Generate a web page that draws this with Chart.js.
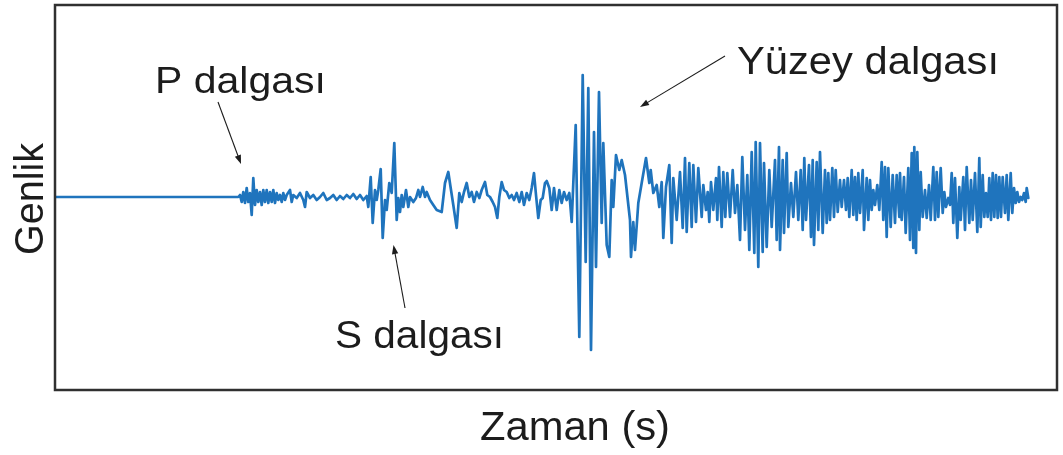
<!DOCTYPE html>
<html lang="tr">
<head>
<meta charset="utf-8">
<title>Sismogram</title>
<script src="https://cdn.jsdelivr.net/npm/chart.js@4.4.1/dist/chart.umd.min.js"></script>
<style>
  html, body { margin: 0; padding: 0; background: #ffffff; }
  #wrap { position: relative; width: 1063px; height: 455px; }
</style>
</head>
<body>
<div id="wrap"><canvas id="seismo"></canvas></div>
<script>
// Zaman ekseni (göreli birim) ve genlik değerleri
const zaman = [
  0, 181,
  183.3, 185, 186.7, 188.3, 190, 191.7, 193.3, 195, 196.7, 198.3, 200, 201.7, 203.3, 205, 206.7, 208.3,
  210, 211.7, 213.3, 215, 216.7, 218.3, 220, 221.7, 223.3, 225, 226.7, 228.3, 230, 231.7, 235, 236.7,
  238.3, 241.7, 245, 248.3, 250, 251.7, 255, 258.3, 261.7, 265, 268.3, 271.7,
  275, 278.3, 281.7, 285, 288.3, 291.7, 295, 298.3, 301.7, 305, 308.3, 311.7, 313.3, 315.7, 317.7, 320,
  321.7, 323.3, 325.7, 327.7, 330, 331.7, 334.3, 336.7, 339.3, 341.7, 343.3, 345, 346.7, 348.3, 351,
  353.3, 355, 358.3, 361, 363.3, 365, 367.7, 370, 371.7, 375, 378.3, 381.7,
  386.7, 390, 393.3, 395.7, 398.3, 401.7, 404.3, 406.7, 409, 411.7, 414.3, 416.7, 419, 421.7, 424.3,
  426.7, 430, 432.3, 435, 437.7, 440, 442.3, 444.3, 446.7, 449, 451.7, 454.3, 456.7, 459, 461.7, 464.3,
  466.7, 469, 471.7, 474.3, 476.7, 479, 481, 483.3, 485.7, 487.7, 490, 491.7, 494.3, 496.7, 499, 501.7,
  504.3, 506.7, 509, 511.7, 514.3, 516.7,
  520.7, 524.3, 527.7, 530.7, 533.3, 536, 539, 541, 544, 546.7, 548.3, 551.7, 554.3, 556.7, 558.3, 561,
  564.3, 566.7, 570, 575, 576, 578.3, 580, 583.3, 586.7, 591, 594.3, 595.7, 598.3,
  601.7, 604.3, 606.7, 608.3, 611, 614.3, 616.7, 618.3, 621.7, 625, 627.7, 630, 631.7, 634.3, 636.7,
  638.3, 641, 643.3, 646.7, 648.3, 651, 652.7, 654.3, 656, 658.3, 661, 662.3, 664, 666.7, 668.3, 670.3,
  672.3, 675, 677.7, 680, 682.3, 685, 687.3, 690, 692.3, 694.3, 696.7, 699.3, 700.7, 703.3, 705, 707.7,
  709, 711.7, 714.3,
  716.7, 720, 721.7, 724, 725, 727.7, 729, 731.7, 733.3, 736, 738.3, 741, 743.3, 745.7, 747.7, 749.3,
  751, 754, 756, 757.7, 759, 761.7, 763.3, 765, 767.7, 770, 771.7, 773.3, 775, 777.3, 779, 780.7, 782.7,
  785, 786.7, 789, 791, 792.7, 794.3, 796.7, 798.3, 800, 801.7, 803.3, 805, 807.7, 809, 811.7, 813.3,
  815, 816.7, 818.3, 820, 822.3, 824.3, 826.7, 828.3, 830, 831.7, 833.3, 835.7, 837.7, 840, 841.7, 844.3,
  845, 846.7, 849, 850.7, 853.3, 855, 856.7, 858.3, 859.3, 861, 862.3, 864.3, 865.7, 867.7, 870, 871.7,
  874, 875.7, 878.3, 880, 881.7, 883.3, 885.7, 887.7, 889.3, 891, 893.3, 895, 896.7, 898.3, 900, 902.3,
  904.3, 905.7, 908.3, 910, 911.7, 914.3, 916, 917.7, 920, 922.3, 924.3, 925.7, 927.7, 929.3, 931, 932.7,
  934.3, 936, 937.7, 939.3, 941, 942.7, 944.3, 946, 947.7, 950, 951.7, 953.3, 955.7, 957.3, 959, 960.7,
  962.3, 964, 965.7, 967.3, 969, 970.7, 971.7, 973.3
];

const genlik = [
  0, 0,
  0, 2, -5, 5, -6, 9, -5, 4, -18, 19, -8, 7, -5, 5, -8, 7,
  -5, 7, -6, 5, -5, 7, -6, 4, -3, 2, -5, 4, -3, 2, 7, -5,
  2, -1, 4, -3, -10, 5, -1, 2, -3, 0, 4, -3,
  -1, 2, -3, 1, -2, 2, -1, 3, -2, 2, -3, 1, -10, 20, -26, 7,
  -3, 7, 28, -41, -3, -13, 14, 4, 54, -23, -1, -15, 2, -10, 7,
  -10, 0, -5, -1, 7, 0, 10, 0, 5, -3, -8, -13,
  -15, 14, 25, 9, -8, -31, 4, -5, 5, 14, 0, 5, -5, 5, -1,
  7, 15, 2, 0, -5, -10, -21, 0, 15, 7, 5, -1, 2, -3, 4, -5,
  5, -8, 4, -3, 9, 24, 2, -21, -3, -1, 14, 16, 9, -13, 9, -13,
  7, -6, 5, -3, 4, -25,
  72, -140, 122, -65, 109, -153, 65, -70, 105, -26, 54, -48, -60, 17, -10, 42,
  27, 37, 22, -23, -60, -25, -53, -6, 14, 39, 14, 27, 4,
  12, -10, 15, -41, 10, 32, -46, 19, -23, 25, -31, 39, -35, 34, -30,
  32, -25, 29, -20, 12, -13, 5, -25, 15, -13, 19, -23, 30, -30, 25, -20,
  24, -20, 27, -16, 12, -43, 40, -33, 22, -53, 45, -56, 55, -70, 54, -55,
  34, -50, 27,
  -30, 37, -43, 50, -53, 37, -36, 44, -30, 14, -20, 25, -23, 27, -33, 39,
  -23, 32, -40, 37, -48, 35, -33, 45, -36, 27, -26, 24, -23, 29, -20, 27, -15,
  17, -10, 17, -13, 19, -20, 27, -18, 20, -23, 24, -16, 27, -33, 19, -23,
  17, -13, 7, -8, 12, -13, 35, -23, 30, -40, 29, -30, 22, -26, 22, -20,
  24, -23, 20, -36, 29, -43, 44, -51, 50, -56, 45, -33, 25, -20, 7, -21,
  12, -23, 30, -23, 25, -20, 29, -16, 5, -10, -1, -8, 24, -26, 19, -41,
  10, -23, 20, -33, 30, -26, 17, -23, 24, -35, 39, -30, 22, -20, 4, -20,
  19, -23, 24, -20, 22, -21, 20, -20, 20, -16, 22, -23, 24, -16, 9, -6,
  5, -5, 0, -3, 4, -5, 9, -1
];

// Eksen sınırları
const zamanMin = 0, zamanMax = 1002;
const genlikMin = -193, genlikMax = 192;

const points = zaman.map((t, i) => ({ x: t, y: genlik[i] }));

const FONT = '"Liberation Sans", Arial, Helvetica, sans-serif';
const INK = '#1c1c1c';

// Metni verilen genişliğe yatay olarak sığdırarak yazar
function fitText(ctx, text, x, baseline, width, size, rotate) {
  ctx.save();
  ctx.font = size + 'px ' + FONT;
  ctx.fillStyle = INK;
  ctx.textBaseline = 'alphabetic';
  ctx.textAlign = 'left';
  const w = ctx.measureText(text).width;
  ctx.translate(x, baseline);
  if (rotate) ctx.rotate(-Math.PI / 2);
  ctx.scale(width / w, 1);
  ctx.fillText(text, 0, 0);
  ctx.restore();
}

function arrow(ctx, x1, y1, x2, y2) {
  const ang = Math.atan2(y2 - y1, x2 - x1);
  const len = 9, half = 3.2;
  ctx.save();
  ctx.strokeStyle = INK;
  ctx.fillStyle = INK;
  ctx.lineWidth = 1.1;
  ctx.beginPath();
  ctx.moveTo(x1, y1);
  ctx.lineTo(x2 - Math.cos(ang) * (len - 1), y2 - Math.sin(ang) * (len - 1));
  ctx.stroke();
  ctx.beginPath();
  ctx.moveTo(x2, y2);
  ctx.lineTo(x2 - Math.cos(ang) * len - Math.sin(ang) * half, y2 - Math.sin(ang) * len + Math.cos(ang) * half);
  ctx.lineTo(x2 - Math.cos(ang) * len + Math.sin(ang) * half, y2 - Math.sin(ang) * len - Math.cos(ang) * half);
  ctx.closePath();
  ctx.fill();
  ctx.restore();
}

const decor = {
  id: 'decor',
  afterDraw(chart) {
    const ctx = chart.ctx;
    const a = chart.chartArea;
    // çerçeve
    ctx.save();
    ctx.strokeStyle = '#303030';
    ctx.lineWidth = 2.5;
    ctx.strokeRect(a.left, a.top, a.right - a.left, a.bottom - a.top);
    ctx.restore();

    // eksen başlıkları
    fitText(ctx, 'Genlik', 43, 255, 112, 40, true);
    fitText(ctx, 'Zaman (s)', 480, 440, 190, 40, false);

    // dalga etiketleri
    fitText(ctx, 'P dalgası', 155, 93, 171, 36, false);
    fitText(ctx, 'S dalgası', 335, 348, 169, 38, false);
    fitText(ctx, 'Yüzey dalgası', 737, 74, 262, 38, false);

    arrow(ctx, 218, 102, 241, 164);
    arrow(ctx, 405, 308, 393.5, 245);
    arrow(ctx, 725, 56, 640, 107);
  }
};

new Chart(document.getElementById('seismo'), {
  type: 'line',
  data: {
    datasets: [{
      data: points,
      borderColor: '#1f74bd',
      borderWidth: 2.7,
      borderJoinStyle: 'round',
      borderCapStyle: 'round',
      pointRadius: 0,
      tension: 0,
      fill: false
    }]
  },
  options: {
    responsive: true,
    maintainAspectRatio: false,
    animation: false,
    layout: { padding: { left: 55, right: 6, top: 5, bottom: 65 } },
    plugins: { legend: { display: false }, tooltip: { enabled: false } },
    scales: {
      x: { type: 'linear', min: zamanMin, max: zamanMax, display: false },
      y: { type: 'linear', min: genlikMin, max: genlikMax, display: false }
    }
  },
  plugins: [decor]
});
</script>
</body>
</html>
